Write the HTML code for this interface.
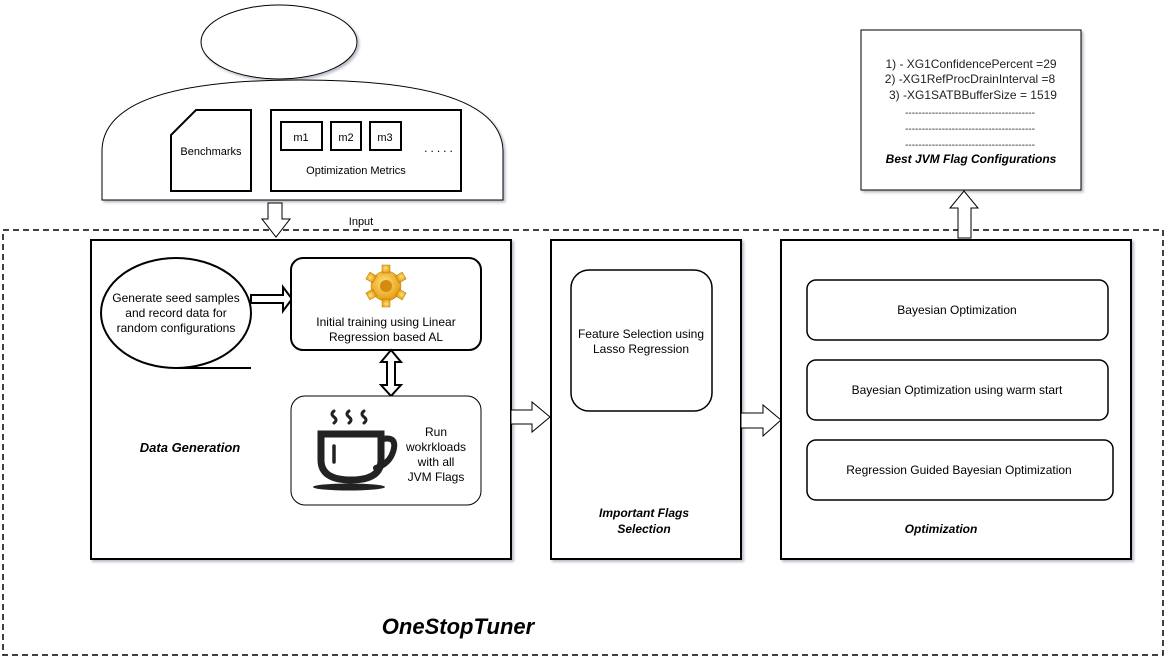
<!DOCTYPE html>
<html><head><meta charset="utf-8"><style>
html,body{margin:0;padding:0;background:#fff;}
svg{display:block;font-family:"Liberation Sans",sans-serif;}
</style></head><body>
<svg width="1174" height="664" viewBox="0 0 1174 664" xmlns="http://www.w3.org/2000/svg">
<defs>
<filter id="sh" x="-5%" y="-5%" width="110%" height="110%"><feDropShadow dx="2" dy="2" stdDeviation="1.2" flood-color="#8890a0" flood-opacity="0.6"/></filter>
<radialGradient id="gg" cx="0.45" cy="0.4" r="0.6"><stop offset="0" stop-color="#ffe27a"/><stop offset="1" stop-color="#e49a10"/></radialGradient>
</defs>
<rect width="1174" height="664" fill="#fff"/>
<ellipse cx="279" cy="42" rx="78" ry="37" fill="#fff" stroke="#000" filter="url(#sh)"/>
<path d="M102,200 L102,150 Q104,80 300,80 Q500,80 503,150 L503,200 Z" fill="#fff" stroke="#000" filter="url(#sh)"/>
<path d="M196,110 L251,110 L251,191 L171,191 L171,135 Z" fill="#fff" stroke="#000" stroke-width="2"/>
<text x="211" y="155" font-size="11" text-anchor="middle">Benchmarks</text>
<rect x="271" y="110" width="190" height="81" fill="#fff" stroke="#000" stroke-width="2"/>
<rect x="281" y="122" width="41" height="28" fill="#fff" stroke="#000" stroke-width="2"/>
<rect x="331" y="122" width="30" height="28" fill="#fff" stroke="#000" stroke-width="2"/>
<rect x="370" y="122" width="31" height="28" fill="#fff" stroke="#000" stroke-width="2"/>
<text x="301" y="141" font-size="11" text-anchor="middle">m1</text>
<text x="346" y="141" font-size="11" text-anchor="middle">m2</text>
<text x="385" y="141" font-size="11" text-anchor="middle">m3</text>
<text x="440" y="152" font-size="12" text-anchor="middle" letter-spacing="3">.....</text>
<text x="356" y="174" font-size="11" text-anchor="middle">Optimization Metrics</text>
<rect x="3" y="230" width="1160" height="425" fill="none" stroke="#000" stroke-width="1.5" stroke-dasharray="6,4"/>
<path d="M268,203 L282,203 L282,219 L290,219 L276,237 L262,219 L268,219 Z" fill="#fff" stroke="#000"/>
<text x="361" y="225" font-size="11" text-anchor="middle">Input</text>
<rect x="861" y="30" width="220" height="160" fill="#fff" stroke="#000" filter="url(#sh)"/>
<g font-size="12" text-anchor="middle" fill="#222">
<text x="971" y="68">1) - XG1ConfidencePercent =29</text>
<text x="970" y="83">2) -XG1RefProcDrainInterval =8</text>
<text x="973" y="99">3) -XG1SATBBufferSize =  1519</text>
<text x="970" y="116" font-size="10">---------------------------------------</text>
<text x="970" y="132" font-size="10">---------------------------------------</text>
<text x="970" y="148" font-size="10">---------------------------------------</text>
<text x="971" y="163" font-weight="bold" font-style="italic" fill="#000">Best JVM Flag Configurations</text>
</g>
<path d="M958,238 L971,238 L971,208 L978,208 L964,191 L950,208 L958,208 Z" fill="#fff" stroke="#000"/>
<rect x="91" y="240" width="420" height="319" fill="#fff" stroke="#000" stroke-width="2" filter="url(#sh)"/>
<ellipse cx="176" cy="313" rx="75" ry="55" fill="#fff" stroke="#000" stroke-width="2"/>
<line x1="176" y1="368" x2="251" y2="368" stroke="#000" stroke-width="2"/>
<g font-size="12" text-anchor="middle">
<text x="176" y="302">Generate seed samples</text>
<text x="176" y="317">and record data for</text>
<text x="176" y="332">random configurations</text>
</g>
<path d="M251,295 L283,295 L283,287 L292,299 L283,311 L283,303 L251,303 Z" fill="#fff" stroke="#000" stroke-width="2"/>
<rect x="291" y="258" width="190" height="92" rx="12" fill="#fff" stroke="#000" stroke-width="2"/>
<g transform="translate(386,286)">
<g fill="url(#gg)" stroke="#c07800" stroke-width="0.5">
<circle r="15"/>
<rect x="-4" y="-21" width="8" height="8"/>
<rect x="-4" y="-21" width="8" height="8" transform="rotate(60)"/>
<rect x="-4" y="-21" width="8" height="8" transform="rotate(120)"/>
<rect x="-4" y="-21" width="8" height="8" transform="rotate(180)"/>
<rect x="-4" y="-21" width="8" height="8" transform="rotate(240)"/>
<rect x="-4" y="-21" width="8" height="8" transform="rotate(300)"/>
</g>
<circle r="6" fill="#d58a10"/>
</g>
<g font-size="12" text-anchor="middle">
<text x="386" y="326">Initial training using Linear</text>
<text x="386" y="341">Regression based AL</text>
</g>
<path d="M387,362 L381,362 L391,350 L401,362 L395,362 L395,385 L401,385 L391,396 L381,385 L387,385 Z" fill="#fff" stroke="#000" stroke-width="2"/>
<rect x="291" y="396" width="190" height="109" rx="14" fill="#fff" stroke="#000"/>
<g fill="none" stroke="#222" stroke-linecap="round">
<path d="M334,411 q-4,3 0,6 q4,3 0,6" stroke-width="3"/>
<path d="M349,411 q-4,3 0,6 q4,3 0,6" stroke-width="3"/>
<path d="M364,411 q-4,3 0,6 q4,3 0,6" stroke-width="3"/>
<path d="M321,434 L381,434 L381,460 Q381,480 351,480 Q321,480 321,460 Z" stroke-width="7"/>
<path d="M383,439 Q398,436 393,452 Q389,464 376,468" stroke-width="6"/>
<line x1="334" y1="446" x2="334" y2="462" stroke-width="3.5"/>
</g>
<ellipse cx="349" cy="487" rx="36" ry="3.5" fill="#222"/>
<g font-size="12" text-anchor="middle">
<text x="436" y="436">Run</text>
<text x="436" y="451">wokrkloads</text>
<text x="436" y="466">with all</text>
<text x="436" y="481">JVM Flags</text>
</g>
<text x="190" y="452" font-size="13" font-weight="bold" font-style="italic" text-anchor="middle">Data Generation</text>
<path d="M511,410 L532,410 L532,402 L550,417 L532,432 L532,424 L511,424 Z" fill="#fff" stroke="#000"/>
<rect x="551" y="240" width="190" height="319" fill="#fff" stroke="#000" stroke-width="2" filter="url(#sh)"/>
<rect x="571" y="270" width="141" height="141" rx="18" fill="#fff" stroke="#000" stroke-width="1.5"/>
<g font-size="12" text-anchor="middle">
<text x="641" y="338">Feature Selection using</text>
<text x="641" y="353">Lasso Regression</text>
</g>
<g font-size="12" font-weight="bold" font-style="italic" text-anchor="middle">
<text x="644" y="517">Important Flags</text>
<text x="644" y="533">Selection</text>
</g>
<path d="M741,413 L763,413 L763,405 L781,420 L763,436 L763,428 L741,428 Z" fill="#fff" stroke="#000"/>
<rect x="781" y="240" width="350" height="319" fill="#fff" stroke="#000" stroke-width="2" filter="url(#sh)"/>
<rect x="807" y="280" width="301" height="60" rx="9" fill="#fff" stroke="#000" stroke-width="1.5"/>
<rect x="807" y="360" width="301" height="60" rx="9" fill="#fff" stroke="#000" stroke-width="1.5"/>
<rect x="807" y="440" width="306" height="60" rx="9" fill="#fff" stroke="#000" stroke-width="1.5"/>
<g font-size="12" text-anchor="middle">
<text x="957" y="314">Bayesian Optimization</text>
<text x="957" y="394">Bayesian Optimization using warm start</text>
<text x="959" y="474">Regression Guided Bayesian Optimization</text>
</g>
<text x="941" y="533" font-size="12" font-weight="bold" font-style="italic" text-anchor="middle">Optimization</text>
<text x="458" y="634" font-size="22" font-weight="bold" font-style="italic" text-anchor="middle">OneStopTuner</text>
</svg>
</body></html>
